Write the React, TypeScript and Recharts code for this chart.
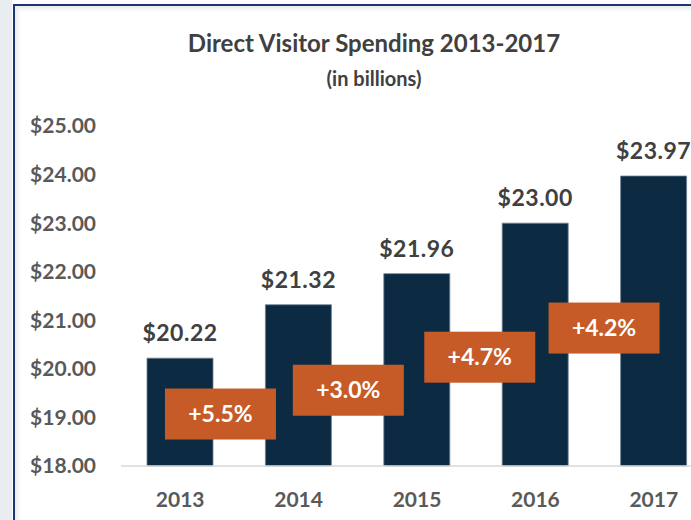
import { ComposedChart, Bar, Scatter, XAxis, YAxis, LabelList } from "recharts"

const years = ["2013", "2014", "2015", "2016", "2017"]
const spending = [20.22, 21.32, 21.96, 23.0, 23.97]
const yTicks = [18, 19, 20, 21, 22, 23, 24, 25]

// growth call-outs: text, where they sit along the year axis (in category units) and on the value axis
const growthLabels = ["+5.5%", "+3.0%", "+4.7%", "+4.2%"]
const growthAt = [0.84, 1.92, 3.03, 4.08]
const growthLevel = [19.07, 19.56, 20.24, 20.84]

const chartData = years.map((year, i) => ({ year, value: spending[i] }))
const growthData = growthLabels.map((label, i) => ({ label, at: growthAt[i], level: growthLevel[i] }))

const font = "Lato, 'Open Sans', sans-serif"

function GrowthBox(props: any) {
  const { cx, cy, payload } = props
  if (cx == null || cy == null) return null
  const w = 111
  const h = 51
  return (
    <g>
      <rect x={cx - w / 2} y={cy - h / 2} width={w} height={h} fill="#C65B28" />
      <text
        x={cx}
        y={cy + 8}
        textAnchor="middle"
        fill="#ffffff"
        fontFamily={font}
        fontWeight={700}
        fontSize={23}
      >
        {payload.label}
      </text>
    </g>
  )
}

export default function App() {
  return (
    <div
      style={{
        position: "fixed",
        left: 0,
        top: 0,
        width: 691,
        height: 520,
        overflow: "hidden",
        background: "#ffffff",
      }}
    >
      <div style={{ position: "absolute", left: 0, top: 0, width: 12, height: 520, background: "#E9ECF0" }} />
      <div
        style={{
          position: "absolute",
          left: 13,
          top: 4,
          width: 700,
          height: 530,
          borderLeft: "2px solid #1B3673",
          borderTop: "2px solid #1B3673",
          boxShadow: "inset 3px 3px 4px rgba(0,0,0,0.08)",
        }}
      />
      <div style={{ position: "absolute", left: 0, top: 0 }}>
        <svg width={745} height={100} style={{ position: "absolute", left: 0, top: 0 }}>
          <text x={374} y={52} textAnchor="middle" fontFamily={font} fontWeight={700} fontSize={24} fill="#404040">
            Direct Visitor Spending 2013-2017
          </text>
          <text x={374} y={86} textAnchor="middle" fontFamily={font} fontWeight={700} fontSize={20} fill="#404040">
            (in billions)
          </text>
        </svg>
        <ComposedChart
          width={760}
          height={520}
          data={chartData}
          margin={{ top: 126, right: 47, bottom: 0, left: 21 }}
        >
          <XAxis
            dataKey="year"
            height={54}
            tickLine={false}
            axisLine={{ stroke: "#D9D9D9", strokeWidth: 1.5 }}
            tickMargin={20}
            tick={{ fill: "#595959", fontFamily: font, fontWeight: 700, fontSize: 21 }}
          />
          <XAxis xAxisId="pos" dataKey="at" type="number" domain={[0, 5]} hide />
          <YAxis
            width={100}
            domain={[18, 25]}
            ticks={yTicks}
            interval={0}
            axisLine={false}
            tickLine={false}
            tickMargin={19}
            tickFormatter={(v: number) => `$${v.toFixed(2)}`}
            tick={{ fill: "#595959", fontFamily: font, fontWeight: 700, fontSize: 21 }}
          />
          <Bar dataKey="value" barSize={66} fill="#0C2A42" stroke="#6F8296" strokeWidth={0.8} isAnimationActive={false}>
            <LabelList
              dataKey="value"
              position="top"
              offset={17}
              formatter={(v: any) => `$${Number(v).toFixed(2)}`}
              style={{ fill: "#404040", fontFamily: font, fontWeight: 700, fontSize: 23, letterSpacing: 0.5 }}
            />
          </Bar>
          <Scatter
            data={growthData}
            xAxisId="pos"
            dataKey="level"
            shape={GrowthBox}
            isAnimationActive={false}
          />
        </ComposedChart>
      </div>
    </div>
  )
}
